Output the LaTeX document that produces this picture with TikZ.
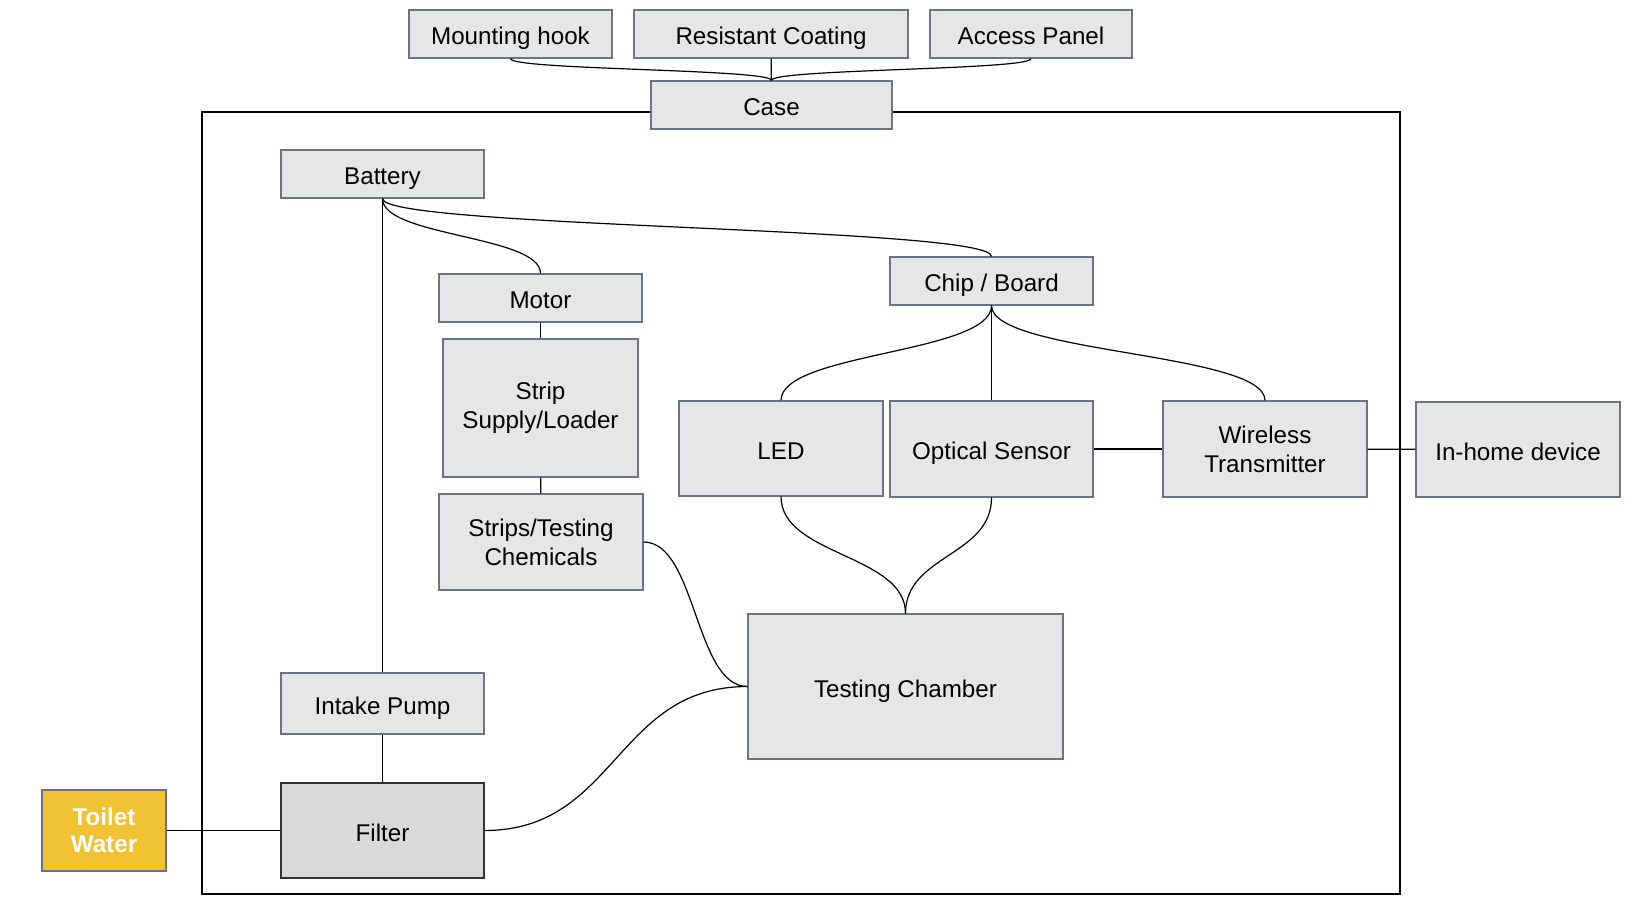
\documentclass[tikz,border=0pt]{standalone}
\usepackage{fontspec}
\setmainfont{Liberation Sans}
\definecolor{boxfill}{HTML}{E6E6E6}
\definecolor{boxline}{HTML}{6B7384}
\definecolor{filterfill}{HTML}{D9D9D9}
\definecolor{waterfill}{HTML}{F1C232}
\begin{document}
\begin{tikzpicture}[x=0.5pt,y=-0.5pt,line width=0.6pt,
        part/.style={draw=boxline,fill=boxfill,inner sep=0pt,align=center,
            font=\fontsize{12.1}{14.6}\selectfont},
        oneline/.style={text height=10.8pt,text depth=0pt}]
        \useasboundingbox (0,0) rectangle (1636,920);
        \draw (202,112) rectangle (1400,894);

        \begin{scope}[every node/.style={part}]
            \node[oneline,minimum width=101.5pt,minimum height=24pt] (mount) at (510.5,34) {Mounting hook};
            \node[oneline,minimum width=137pt,minimum height=24pt] (coat) at (771,34) {Resistant Coating};
            \node[oneline,minimum width=101pt,minimum height=24pt] (panel) at (1031,34) {Access Panel};
            \node[oneline,minimum width=120.5pt,minimum height=24pt] (case) at (771.5,105) {Case};

            \node[oneline,minimum width=101.5pt,minimum height=24pt] (battery) at (382.5,174) {Battery};
            \node[oneline,minimum width=101.5pt,minimum height=24pt] (motor) at (540.5,298) {Motor};
            \node[minimum width=97.5pt,minimum height=69pt] (loader) at (540.5,408) {Strip\\Supply/Loader};
            \node[minimum width=102pt,minimum height=48pt] (strips) at (541,542) {Strips/Testing\\Chemicals};

            \node[oneline,minimum width=101.5pt,minimum height=24pt] (chip) at (991.5,281) {Chip / Board};
            \node[oneline,minimum width=102pt,minimum height=47.5pt] (led) at (781,448.5) {LED};
            \node[oneline,minimum width=101.5pt,minimum height=48pt] (sensor) at (991.5,449) {Optical Sensor};
            \node[minimum width=102pt,minimum height=48pt] (wireless) at (1265,449) {Wireless\\Transmitter};
            \node[oneline,minimum width=102pt,minimum height=47.5pt] (inhome) at (1518,449.5) {In-home device};
            \node[oneline,minimum width=157.5pt,minimum height=72.5pt] (chamber) at (905.5,686.5) {Testing Chamber};

            \node[oneline,minimum width=101.5pt,minimum height=30.5pt] (pump) at (382.5,703.5) {Intake Pump};
            \node[oneline,draw=black!80,fill=filterfill,minimum width=101.5pt,minimum height=47.5pt] (filter) at (382.5,830.5) {Filter};
            \node[fill=waterfill,text=white,font=\fontsize{12.1}{13.6}\selectfont\bfseries,
                minimum width=62pt,minimum height=40.5pt] (toilet) at (104,830.5) {Toilet\\Water};
        \end{scope}

        \draw (mount.south) .. controls +(0,11.5) and +(0,-11.5) .. (case.north);
        \path (coat) edge (case);
        \draw (panel.south) .. controls +(0,11.5) and +(0,-11.5) .. (case.north);

        \path (battery.south) edge (pump.north);
        \draw (battery.south) .. controls +(0,38) and +(0,-38) .. (motor.north);
        \draw (battery.south) .. controls +(0,29.5) and +(0,-29.5) .. (chip.north);
        \path (motor) edge (loader);
        \path (loader) edge (strips);
        \path (pump) edge (filter);
        \path (toilet) edge (filter);

        \draw (chip.south) .. controls +(0,48) and +(0,-48) .. (led.north);
        \path (chip) edge (sensor);
        \draw (chip.south) .. controls +(0,48) and +(0,-48) .. (wireless.north);
        \path (sensor) edge (wireless);
        \path (wireless) edge (inhome);

        \draw (led.south) .. controls +(0,59) and +(0,-59) .. (chamber.north);
        \draw (sensor.south) .. controls +(0,58.5) and +(0,-58.5) .. (chamber.north);
        \draw (strips.east) .. controls +(52.5,0) and +(-52.5,0) .. (chamber.west);
        \draw (filter.east) .. controls +(132,0) and +(-132,0) .. (chamber.west);
    \end{tikzpicture}
\end{document}
